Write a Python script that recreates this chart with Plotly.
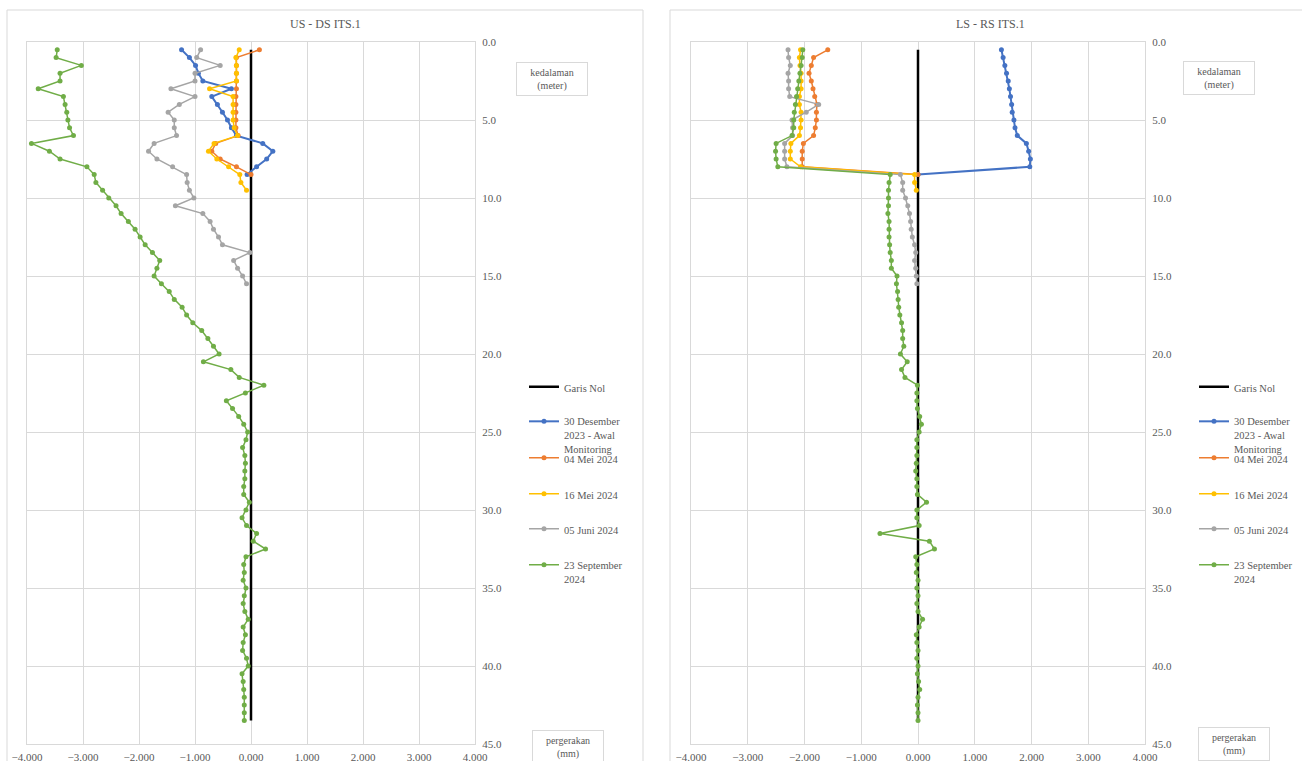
import plotly.graph_objects as go

W, H = 1302, 761

# Depth of each inclinometer reading (m)
DEPTH = [0.5, 1.0, 1.5, 2.0, 2.5, 3.0, 3.5, 4.0, 4.5, 5.0,
         5.5, 6.0, 6.5, 7.0, 7.5, 8.0, 8.5, 9.0, 9.5, 10.0,
         10.5, 11.0, 11.5, 12.0, 12.5, 13.0, 13.5, 14.0, 14.5, 15.0,
         15.5, 16.0, 16.5, 17.0, 17.5, 18.0, 18.5, 19.0, 19.5, 20.0,
         20.5, 21.0, 21.5, 22.0, 22.5, 23.0, 23.5, 24.0, 24.5, 25.0,
         25.5, 26.0, 26.5, 27.0, 27.5, 28.0, 28.5, 29.0, 29.5, 30.0,
         30.5, 31.0, 31.5, 32.0, 32.5, 33.0, 33.5, 34.0, 34.5, 35.0,
         35.5, 36.0, 36.5, 37.0, 37.5, 38.0, 38.5, 39.0, 39.5, 40.0,
         40.5, 41.0, 41.5, 42.0, 42.5, 43.0, 43.5]

SERIES_NAMES = ["Garis Nol",
                "30 Desember<br>2023 - Awal<br>Monitoring",
                "04 Mei 2024",
                "16 Mei 2024",
                "05 Juni 2024",
                "23 September<br>2024"]

# Zero reference line
GARIS_NOL_DEPTH = [0.5, 43.5]
GARIS_NOL = [0.0, 0.0]

# ---- US - DS ITS.1 displacement (mm) ----
US_DS_30DES2023 = [-1.24, -1.10, -0.99, -0.94, -0.86, -0.35, -0.70, -0.60, -0.51, -0.42,
                   -0.35, -0.26, 0.21, 0.39, 0.28, 0.10, -0.07]
US_DS_04MEI2024 = [0.15, -0.26, -0.26, -0.26, -0.26, -0.26, -0.27, -0.27, -0.27, -0.27,
                   -0.27, -0.23, -0.63, -0.70, -0.55, -0.26, 0.00]
US_DS_16MEI2024 = [-0.21, -0.27, -0.26, -0.26, -0.26, -0.74, -0.32, -0.32, -0.32, -0.32,
                   -0.30, -0.24, -0.66, -0.76, -0.61, -0.40, -0.20, -0.18, -0.08]
US_DS_05JUN2024 = [-0.90, -0.97, -0.55, -1.00, -1.00, -1.43, -1.00, -1.28, -1.48, -1.37,
                   -1.37, -1.33, -1.73, -1.83, -1.68, -1.40, -1.15, -1.14, -1.10, -1.02,
                   -1.35, -0.86, -0.73, -0.67, -0.58, -0.51, -0.02, -0.31, -0.24, -0.15,
                   -0.08]
US_DS_23SEP2024 = [-3.46, -3.48, -3.03, -3.41, -3.41, -3.80, -3.35, -3.32, -3.29, -3.27,
                   -3.24, -3.17, -3.92, -3.60, -3.41, -2.93, -2.80, -2.77, -2.65, -2.54,
                   -2.41, -2.32, -2.19, -2.07, -1.98, -1.89, -1.76, -1.63, -1.68, -1.73,
                   -1.60, -1.46, -1.37, -1.23, -1.15, -1.04, -0.88, -0.77, -0.67, -0.57,
                   -0.85, -0.36, -0.21, 0.23, -0.10, -0.44, -0.33, -0.22, -0.13, -0.06,
                   -0.09, -0.15, -0.11, -0.10, -0.11, -0.11, -0.13, -0.13, -0.03, -0.09,
                   -0.16, -0.08, 0.10, 0.04, 0.26, -0.09, -0.13, -0.12, -0.14, -0.09,
                   -0.12, -0.14, -0.11, -0.05, -0.14, -0.10, -0.14, -0.15, -0.08, -0.05,
                   -0.16, -0.14, -0.13, -0.12, -0.12, -0.12, -0.12]

# ---- LS - RS ITS.1 displacement (mm) ----
LS_RS_30DES2023 = [1.47, 1.50, 1.53, 1.56, 1.59, 1.61, 1.63, 1.65, 1.66, 1.69,
                   1.71, 1.75, 1.91, 1.95, 1.98, 1.97, 0.00]
LS_RS_04MEI2024 = [-1.59, -1.84, -1.88, -1.92, -1.88, -1.85, -1.82, -1.78, -1.79, -1.79,
                   -1.81, -1.84, -2.02, -2.04, -2.04, -2.04, 0.00]
LS_RS_16MEI2024 = [-2.07, -2.09, -2.08, -2.06, -2.06, -2.06, -2.09, -2.09, -2.06, -2.06,
                   -2.07, -2.09, -2.24, -2.25, -2.25, -2.07, -0.06, -0.06, -0.03]
LS_RS_05JUN2024 = [-2.29, -2.28, -2.25, -2.29, -2.28, -2.28, -2.26, -1.75, -1.97, -2.22,
                   -2.21, -2.21, -2.35, -2.35, -2.35, -2.31, -0.31, -0.27, -0.27, -0.22,
                   -0.18, -0.15, -0.13, -0.12, -0.10, -0.06, -0.04, -0.06, -0.04, -0.03,
                   -0.02]
LS_RS_23SEP2024 = [-2.03, -2.04, -2.06, -2.08, -2.10, -2.12, -2.14, -2.16, -2.18, -2.19,
                   -2.19, -2.22, -2.50, -2.51, -2.50, -2.47, -0.49, -0.51, -0.52, -0.52,
                   -0.52, -0.53, -0.51, -0.51, -0.51, -0.50, -0.49, -0.47, -0.47, -0.37,
                   -0.38, -0.36, -0.35, -0.34, -0.32, -0.29, -0.27, -0.27, -0.25, -0.31,
                   -0.19, -0.29, -0.23, -0.01, -0.02, -0.02, -0.01, 0.03, 0.06, 0.02,
                   -0.02, -0.02, -0.02, -0.03, -0.04, -0.02, -0.02, -0.01, 0.15, -0.02,
                   -0.02, 0.02, -0.67, 0.20, 0.29, -0.04, -0.02, -0.03, 0.00, -0.02,
                   0.00, -0.02, 0.00, 0.08, 0.02, -0.03, -0.02, 0.00, -0.02, 0.00,
                   -0.01, 0.01, 0.03, 0.00, -0.01, 0.00, 0.00]

X_TICKS = [-4, -3, -2, -1, 0, 1, 2, 3, 4]
Y_TICKS = [0, 5, 10, 15, 20, 25, 30, 35, 40, 45]

COLORS = ["#000000", "#4472C4", "#ED7D31", "#FFC000", "#A5A5A5", "#70AD47"]
LINE_W = [2.5, 2.0, 1.5, 1.5, 1.5, 1.5]
TEXT = "#595959"
FRAME = "#d9d9d9"
SERIF = "Liberation Serif, Times New Roman, serif"


def px_x(p):
    return p / W


def px_y(p):
    return 1 - p / H


fig = go.Figure()

charts = [
    dict(xa="x", ya="y", series=[US_DS_30DES2023, US_DS_04MEI2024, US_DS_16MEI2024,
                                 US_DS_05JUN2024, US_DS_23SEP2024], legend_start=1),
    dict(xa="x2", ya="y2", series=[LS_RS_30DES2023, LS_RS_04MEI2024, LS_RS_16MEI2024,
                                   LS_RS_05JUN2024, LS_RS_23SEP2024], legend_start=7),
]

for ch in charts:
    k = ch["legend_start"]
    lg = "legend" if k == 1 else f"legend{k}"
    fig.add_trace(go.Scatter(
        x=GARIS_NOL, y=GARIS_NOL_DEPTH, mode="lines", name=SERIES_NAMES[0],
        line=dict(color=COLORS[0], width=LINE_W[0]),
        xaxis=ch["xa"], yaxis=ch["ya"], legend=lg))
    for i, vals in enumerate(ch["series"], start=1):
        fig.add_trace(go.Scatter(
            x=vals, y=DEPTH[:len(vals)], mode="lines+markers", name=SERIES_NAMES[i],
            line=dict(color=COLORS[i], width=LINE_W[i]),
            marker=dict(color=COLORS[i], size=5, symbol="circle"),
            xaxis=ch["xa"], yaxis=ch["ya"], legend=f"legend{k + i}"))

# One legend box per entry so each sits at its own height beside the chart
ENTRY_Y = [388, 435, 459, 495, 530, 572]
legend_layout = {}
for k, text_left in ((1, 562), (7, 1232)):
    for j, yc in enumerate(ENTRY_Y):
        key = "legend" if (k + j) == 1 else f"legend{k + j}"
        legend_layout[key] = dict(
            xref="container", yref="container",
            x=px_x(text_left - 38), y=px_y(yc), xanchor="left", yanchor="middle",
            bgcolor="rgba(0,0,0,0)", borderwidth=0, itemwidth=30, valign="top",
            font=dict(family=SERIF, size=10.5, color=TEXT),
            itemclick=False, itemdoubleclick=False)

axis_common = dict(
    showgrid=True, gridcolor=FRAME, gridwidth=1, zeroline=False,
    showline=True, mirror=True, linecolor=FRAME, linewidth=1, automargin=False,
    ticks="", tickfont=dict(family=SERIF, size=11, color=TEXT))

fig.update_layout(
    width=W, height=H, margin=dict(l=0, r=0, t=0, b=0, autoexpand=False),
    paper_bgcolor="white", plot_bgcolor="white",
    showlegend=True,
    xaxis=dict(domain=[px_x(27), px_x(475)], range=[-4, 4], tickvals=X_TICKS,
               tickformat=".3f", anchor="y", ticklabelstandoff=3, **axis_common),
    yaxis=dict(domain=[px_y(744), px_y(42)], range=[45, 0], tickvals=Y_TICKS,
               tickformat=".1f", side="right", anchor="x", ticklabelstandoff=4,
               **axis_common),
    xaxis2=dict(domain=[px_x(691), px_x(1145)], range=[-4, 4], tickvals=X_TICKS,
                tickformat=".3f", anchor="y2", ticklabelstandoff=3, **axis_common),
    yaxis2=dict(domain=[px_y(744), px_y(42)], range=[45, 0], tickvals=Y_TICKS,
                tickformat=".1f", side="right", anchor="x2", ticklabelstandoff=4,
                **axis_common),
    **legend_layout,
)

# Chart frames
fig.add_shape(type="rect", xref="paper", yref="paper",
              x0=px_x(7), x1=px_x(643), y0=-0.05, y1=px_y(10),
              line=dict(color=FRAME, width=1), fillcolor="rgba(0,0,0,0)", layer="below")
fig.add_shape(type="rect", xref="paper", yref="paper",
              x0=px_x(670), x1=1.05, y0=-0.05, y1=px_y(10),
              line=dict(color=FRAME, width=1), fillcolor="rgba(0,0,0,0)", layer="below")

# Titles
for title, xc in (("US - DS ITS.1", 325), ("LS - RS ITS.1", 990)):
    fig.add_annotation(xref="paper", yref="paper", x=px_x(xc), y=px_y(24),
                       text=title, showarrow=False, xanchor="center", yanchor="middle",
                       font=dict(family=SERIF, size=12, color=TEXT))

# Axis title boxes
for text, xc, yc in (("kedalaman<br>(meter)", 552, 79),
                     ("kedalaman<br>(meter)", 1219, 78),
                     ("pergerakan<br>(mm)", 568, 747),
                     ("pergerakan<br>(mm)", 1234, 744)):
    fig.add_annotation(xref="paper", yref="paper", x=px_x(xc), y=px_y(yc),
                       text=text, showarrow=False, xanchor="center", yanchor="middle",
                       width=66, height=28, borderpad=2, bordercolor=FRAME, borderwidth=1,
                       bgcolor="white", align="center",
                       font=dict(family=SERIF, size=10, color=TEXT))

fig.write_html("out.html")
